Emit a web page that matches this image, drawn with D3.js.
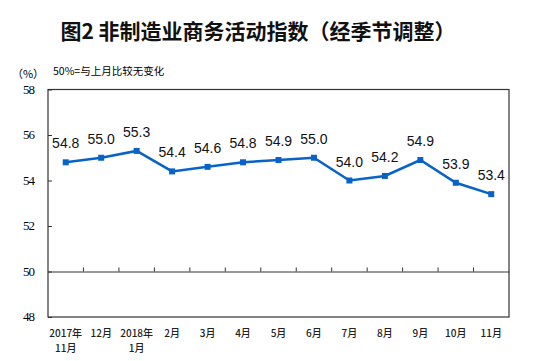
<!DOCTYPE html>
<html>
<head>
<meta charset="utf-8">
<script src="https://cdn.jsdelivr.net/npm/d3@7"></script>
<style>
  body { margin: 0; background: #fff; }
  svg { display: block; }
</style>
</head>
<body>
<svg width="554" height="361"></svg>
<script>
const months = ["2017年|11月", "12月", "2018年|1月", "2月", "3月", "4月", "5月", "6月", "7月", "8月", "9月", "10月", "11月"];
const values = [54.8, 55.0, 55.3, 54.4, 54.6, 54.8, 54.9, 55.0, 54.0, 54.2, 54.9, 53.9, 53.4];
const yTicks = [48, 50, 52, 54, 56, 58];

const svg = d3.select("svg");
const margin = { left: 48, right: 45, top: 89.5, bottom: 44 };
const width = 554 - margin.left - margin.right;
const height = 361 - margin.top - margin.bottom;

const x = d3.scaleBand().domain(months).range([margin.left, margin.left + width]);
const y = d3.scaleLinear().domain([48, 58]).range([margin.top + height, margin.top]);

// title
svg.append("text")
  .attr("x", 258).attr("y", 39)
  .attr("text-anchor", "middle")
  .attr("font-family", "Noto Sans CJK SC")
  .attr("font-weight", "bold")
  .attr("font-size", 21)
  .attr("fill", "#111")
  .text("图2 非制造业商务活动指数（经季节调整）");

svg.append("text")
  .attr("x", 28).attr("y", 78)
  .attr("text-anchor", "middle")
  .attr("font-family", "Noto Sans CJK SC")
  .attr("font-size", 11)
  .text("（%）");

svg.append("text")
  .attr("x", 53).attr("y", 75)
  .attr("font-family", "Noto Sans CJK SC")
  .attr("font-size", 10.5)
  .text("50%=与上月比较无变化");

// plot frame
svg.append("rect")
  .attr("x", margin.left).attr("y", margin.top)
  .attr("width", width).attr("height", height)
  .attr("fill", "none").attr("stroke", "#333").attr("stroke-width", 1.2);

// y axis
const yAxis = svg.append("g")
  .attr("transform", `translate(${margin.left},0)`)
  .call(d3.axisRight(y).tickValues(yTicks).tickSize(4).tickFormat(""));
yAxis.select(".domain").remove();
yAxis.selectAll("line").attr("stroke", "#333");
svg.append("g").selectAll("text")
  .data(yTicks).join("text")
  .attr("x", 34).attr("y", d => y(d) + 4)
  .attr("text-anchor", "end")
  .attr("font-family", "Liberation Serif")
  .attr("font-size", 13)
  .attr("letter-spacing", -1)
  .text(d => d);

// 50 baseline with category ticks
const baseAxis = svg.append("g")
  .attr("transform", `translate(0,${y(50)})`)
  .call(d3.axisTop(x).tickSize(0).tickFormat(""));
baseAxis.select(".domain").attr("stroke", "#333").attr("stroke-width", 1.2);
baseAxis.selectAll(".tick").remove();
baseAxis.selectAll(".bt")
  .data(months.slice(1)).join("line")
  .attr("x1", d => x(d)).attr("x2", d => x(d))
  .attr("y1", 0).attr("y2", -4)
  .attr("stroke", "#333");

// x labels
const xl = svg.append("g").selectAll("text")
  .data(months).join("text")
  .attr("x", d => x(d) + x.bandwidth() / 2)
  .attr("y", 337)
  .attr("text-anchor", "middle")
  .attr("font-family", "Noto Sans CJK SC")
  .attr("font-size", 10)
  .attr("font-weight", 500)
  .attr("fill", "#222");
xl.each(function (d) {
  const parts = d.split("|");
  const t = d3.select(this);
  parts.forEach((p, i) => {
    t.append("tspan")
      .attr("x", x(d) + x.bandwidth() / 2)
      .attr("dy", i === 0 ? 0 : 15)
      .text(p);
  });
});

// line
const pts = months.map((m, i) => [x(m) + x.bandwidth() / 2, y(values[i])]);
svg.append("path")
  .attr("d", d3.line()(pts))
  .attr("fill", "none")
  .attr("stroke", "#0863c8")
  .attr("stroke-width", 2.5);

svg.append("g").selectAll("rect")
  .data(pts).join("rect")
  .attr("x", d => d[0] - 3).attr("y", d => d[1] - 3)
  .attr("width", 6).attr("height", 6)
  .attr("fill", "#0863c8");

svg.append("g").selectAll("text")
  .data(pts).join("text")
  .attr("x", d => d[0])
  .attr("y", (d, i) => d[1] - 14)
  .attr("text-anchor", "middle")
  .attr("font-family", "Liberation Sans")
  .attr("font-size", 14)
  .attr("fill", "#111")
  .text((d, i) => values[i].toFixed(1));
</script>
</body>
</html>
